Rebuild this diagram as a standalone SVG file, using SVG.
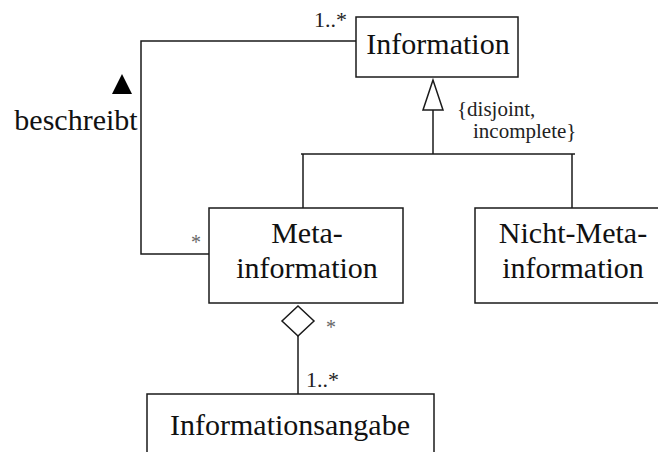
<svg xmlns="http://www.w3.org/2000/svg" width="658" height="452" viewBox="0 0 658 452">
<style>
.box{fill:#fff;stroke:#1a1a1a;stroke-width:1.5}
.ln{fill:none;stroke:#1a1a1a;stroke-width:1.5}
text{font-family:'Liberation Serif','DejaVu Serif',serif}
.t{font-size:30px;fill:#111;text-anchor:middle}
.s{font-size:22px;fill:#222}
.c{font-size:21px;fill:#222}
.st{font-size:20px;fill:#666}
</style>
<rect width="658" height="452" fill="#fff"/>
<g id="connectors">
<polyline class="ln" points="356,41 141,41 141,254 209,254"/>
<line class="ln" x1="433" y1="110" x2="433" y2="154"/>
<line class="ln" x1="301" y1="154" x2="575" y2="154"/>
<line class="ln" x1="303" y1="154" x2="303" y2="208"/>
<line class="ln" x1="572" y1="154" x2="572" y2="208"/>
<polygon points="433,80 423,110 443,110" fill="#fff" stroke="#1a1a1a" stroke-width="1.5"/>
<polygon points="298,306 314,321 298,336 282,321" fill="#fff" stroke="#1a1a1a" stroke-width="1.5"/>
<line class="ln" x1="298" y1="336" x2="298" y2="394"/>
<polygon points="122,74 112,94 132,94" fill="#000"/>
<text class="t" x="76" y="130">beschreibt</text>
<text class="s" x="314" y="27">1..*</text>
<text class="st" x="191" y="249">*</text>
<text class="c" x="457" y="116">{disjoint,</text>
<text class="c" x="473" y="138">incomplete}</text>
<text class="st" x="326" y="334">*</text>
<text class="s" x="306" y="387">1..*</text>
</g>
<g id="information">
<rect class="box" x="356" y="17" width="162" height="60"/>
<text class="t" x="438" y="54">Information</text>
</g>
<g id="metainformation">
<rect class="box" x="209" y="208" width="194" height="95"/>
<text class="t" x="307" y="243">Meta-</text>
<text class="t" x="307" y="278">information</text>
</g>
<g id="nichtmetainformation">
<rect class="box" x="475" y="208" width="200" height="95"/>
<text class="t" x="573" y="243">Nicht-Meta-</text>
<text class="t" x="573" y="278">information</text>
</g>
<g id="informationsangabe">
<rect class="box" x="147" y="394" width="287" height="70"/>
<text class="t" x="290" y="435">Informationsangabe</text>
</g>
</svg>
